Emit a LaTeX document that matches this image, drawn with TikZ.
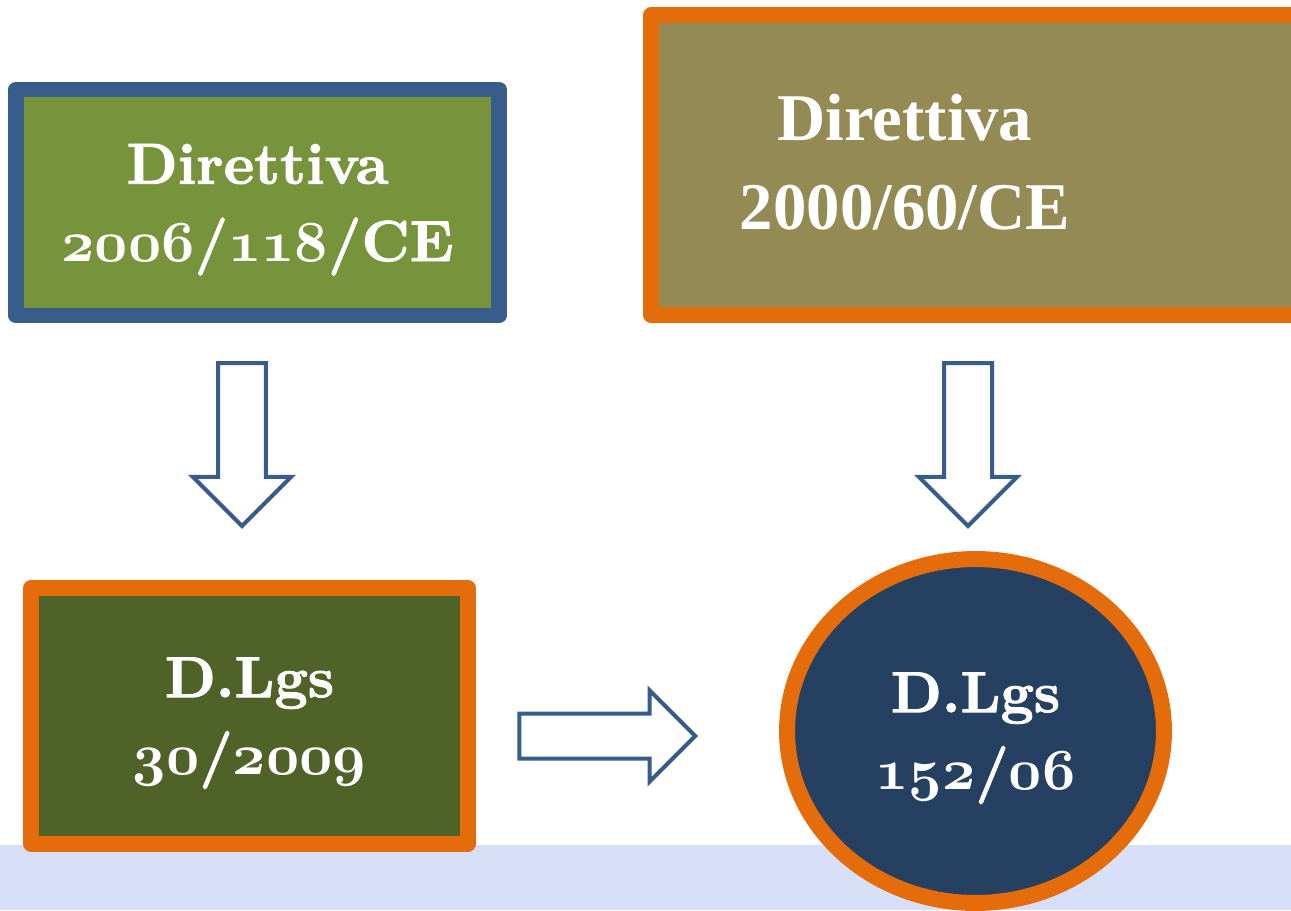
\documentclass[tikz,border=0pt]{standalone}
\usepackage{fontspec}
\newfontfamily\olivefont{Liberation Serif}
\newfontface\boxbold{lmroman10-bold.otf}[FakeBold=1.5]
\usetikzlibrary{positioning, shapes.geometric, shapes.arrows}

\definecolor{edgeblue}{HTML}{385D8A}
\definecolor{leafgreen}{HTML}{77933C}
\definecolor{burnt}{HTML}{E46C0A}
\definecolor{olivefill}{HTML}{948A54}
\definecolor{mossgreen}{HTML}{4F6228}
\definecolor{navyfill}{HTML}{254061}
\definecolor{bandblue}{HTML}{D7E0F8}

% old style figures, bold, at any size
\DeclareFontFamily{OML}{oldbold}{}
\DeclareFontShape{OML}{oldbold}{b}{it}{<-> cmmib10}{}
\newcommand{\oldfig}[1]{{\usefont{OML}{oldbold}{b}{it}#1}}

\begin{document}
\begin{tikzpicture}[x=0.02cm, y=-0.02cm,
        box/.style={draw, line width=0.31cm, line join=round, inner sep=0pt},
        txt/.style={text=white, align=center, text depth=0pt, font=\boxbold\fontsize{33}{44}\selectfont},
        blockarrow/.style={single arrow, draw=edgeblue, fill=white, line width=0.08cm, inner xsep=0pt}]

    \useasboundingbox (0,0) rectangle (1291,910);
    \clip (0,0) rectangle (1291,910);

    % Band at the bottom
    \fill[bandblue] (0,845) rectangle (1291,910);

    % Directives
    \node[box, draw=edgeblue, fill=leafgreen, minimum width=9.66cm, minimum height=4.52cm, txt] (dir1) at (257.5,202.5)
        {Direttiva\\\oldfig{2006}/\oldfig{118}/CE};
    \node[box, draw=burnt, fill=olivefill, minimum width=13.78cm, minimum height=6cm] (dir2) at (995.5,165) {};
    \node[txt, font=\olivefont\bfseries\fontsize{38}{50.6}\selectfont] (dir2txt) at (905,162) {Direttiva\\2000/60/CE};

    % Decrees
    \node[box, draw=burnt, fill=mossgreen, minimum width=8.74cm, minimum height=5.12cm, txt] (dlgs1) at (249.5,716)
        {D.Lgs\\\oldfig{30}/\oldfig{2009}};
    \node[ellipse, draw=burnt, line width=0.32cm, fill=navyfill, minimum width=7.54cm, minimum height=6.88cm, inner sep=0pt, txt] (dlgs2) at (975.5,731)
        {D.Lgs\\\oldfig{152}/\oldfig{06}};

    % Block arrows
    \node[blockarrow, rotate=-90, inner ysep=0.44cm, minimum height=3.26cm, single arrow head extend=0.5cm] (down1) at (242,432.5) {};
    \node[blockarrow, rotate=-90, inner ysep=0.44cm, minimum height=3.26cm, single arrow head extend=0.5cm] (down2) at (968,432.5) {};
    \node[blockarrow, inner ysep=0.41cm, minimum height=3.52cm, single arrow head extend=0.46cm] (across) at (596,736) {};
\end{tikzpicture}
\end{document}
